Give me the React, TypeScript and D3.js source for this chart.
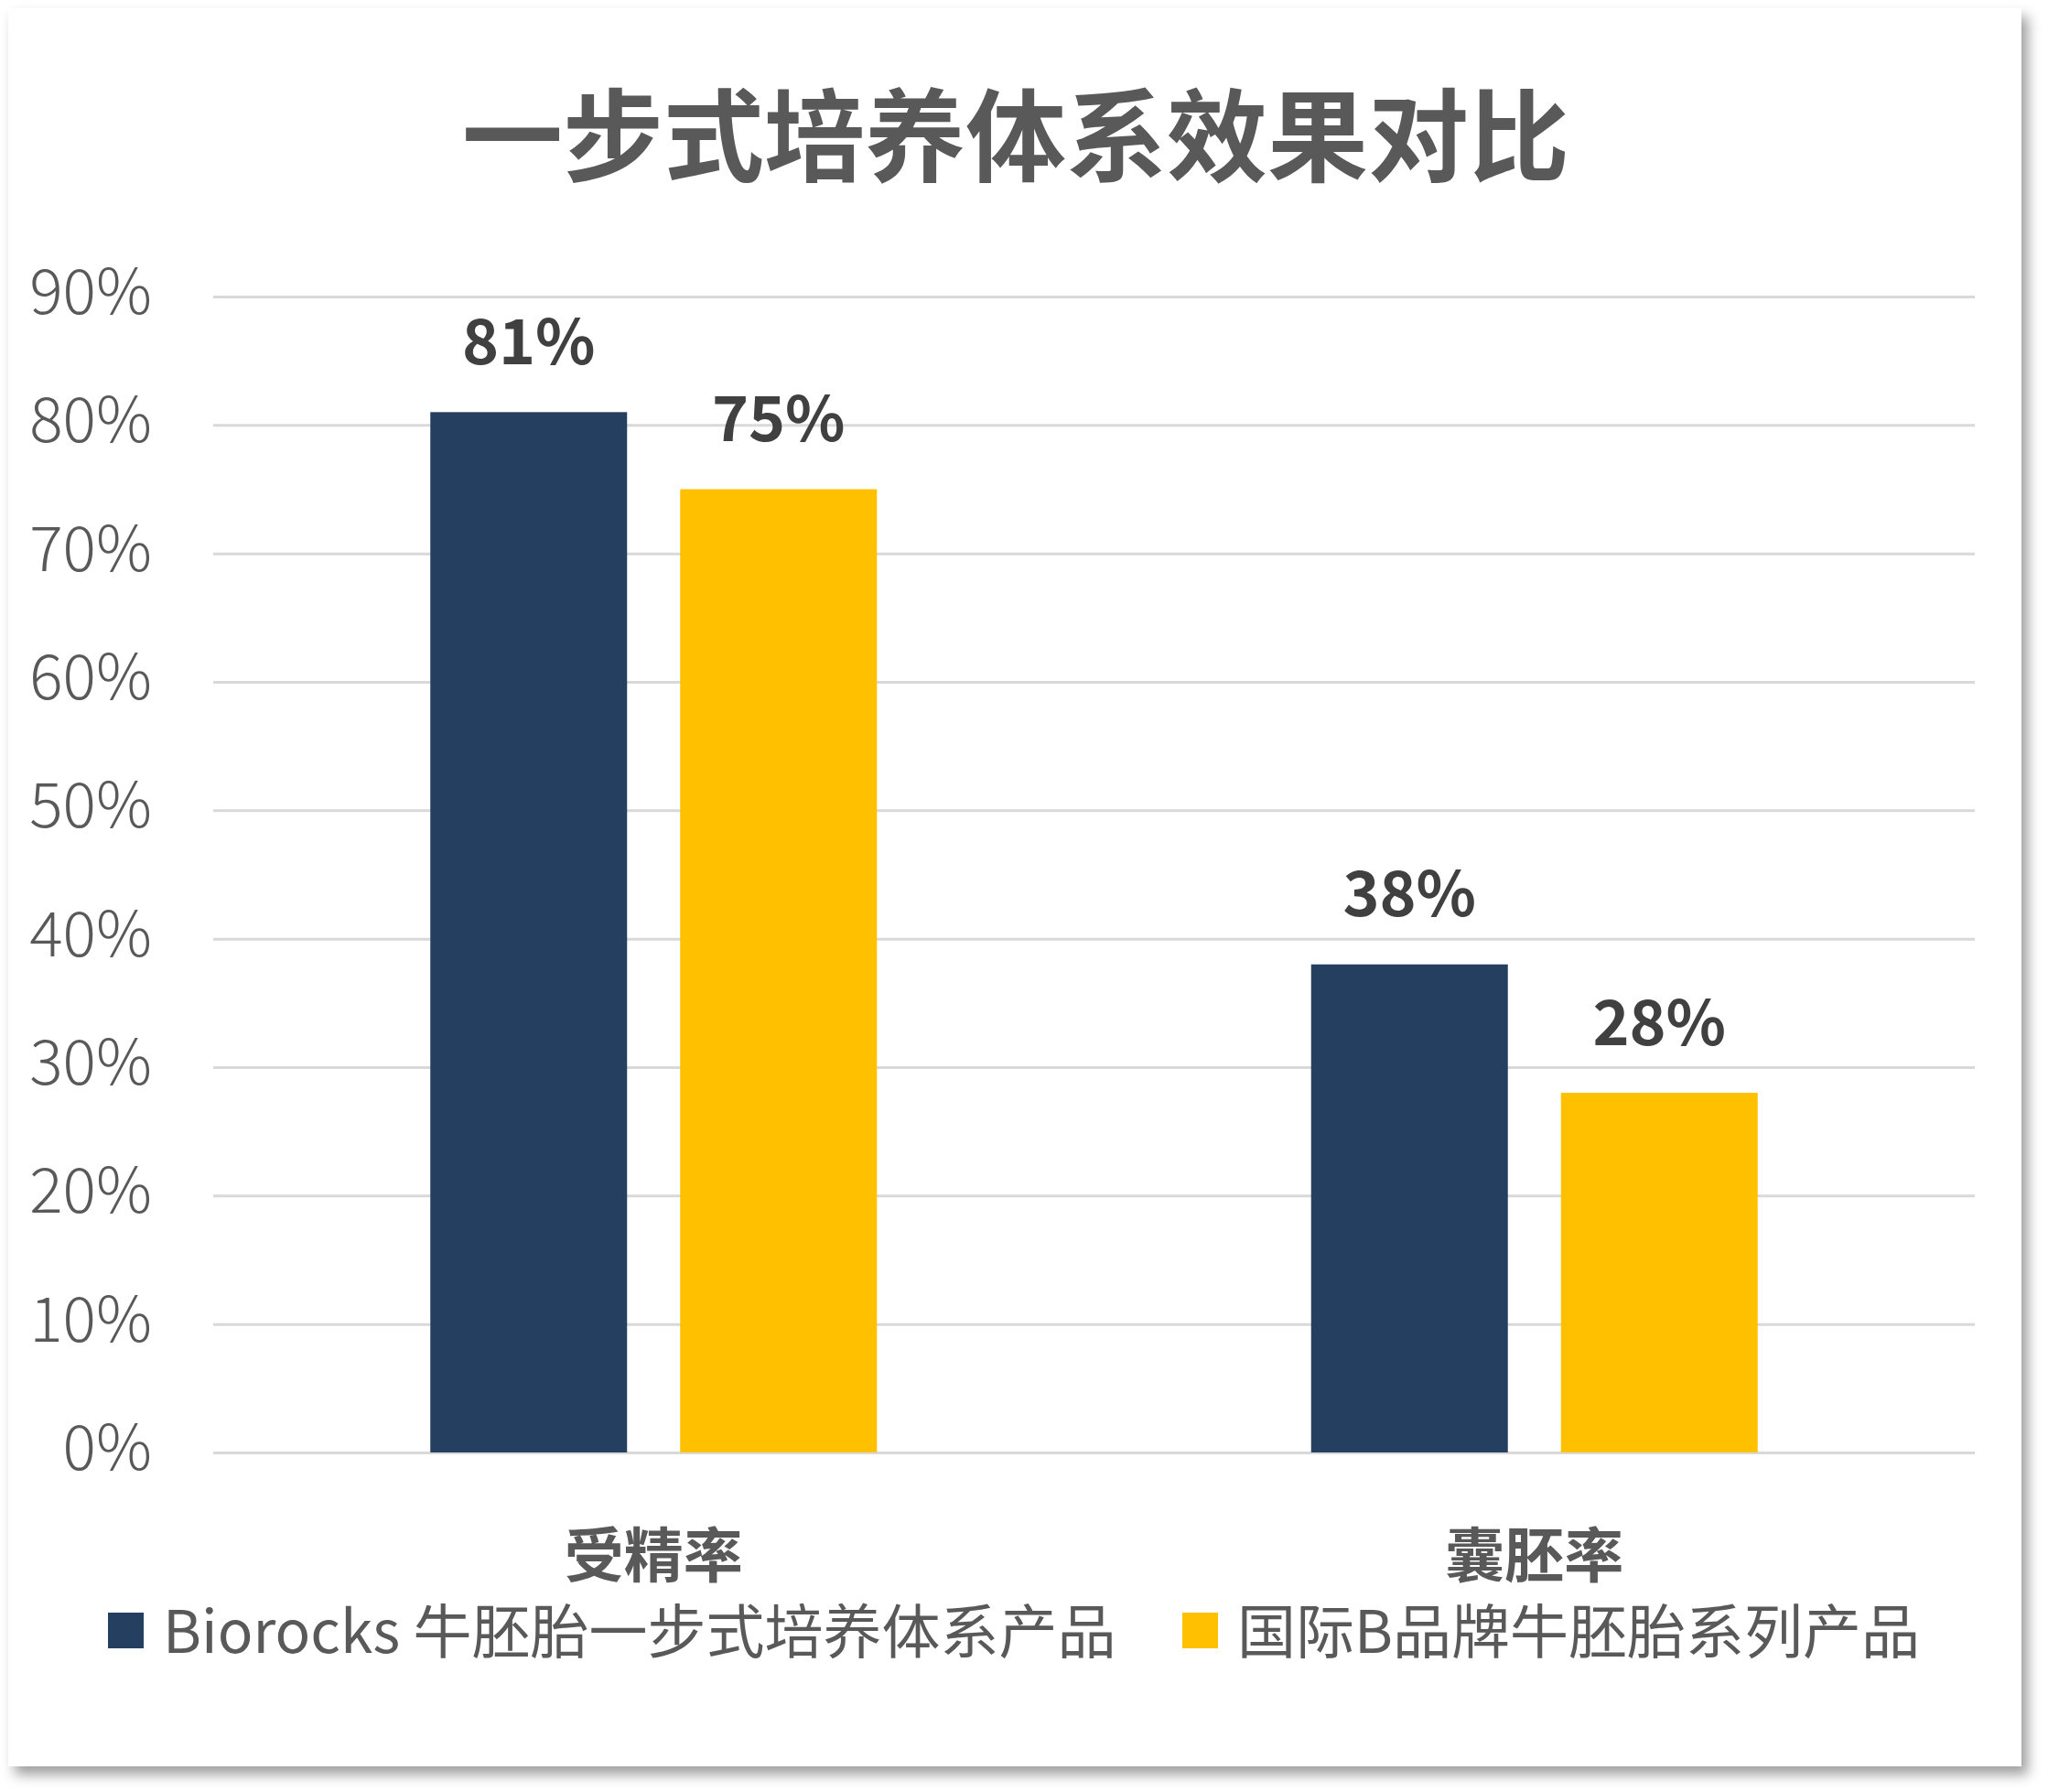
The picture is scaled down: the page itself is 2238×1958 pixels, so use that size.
import React, { useEffect, useRef } from "react";
import * as d3 from "d3";

const title = "一步式培养体系效果对比";
const categories = ["受精率", "囊胚率"];
const seriesNames = ["Biorocks 牛胚胎一步式培养体系产品", "国际B品牌牛胚胎系列产品"];
const biorocksValues = [0.81, 0.38];
const brandBValues = [0.75, 0.28];
const yTicks = [0, 0.1, 0.2, 0.3, 0.4, 0.5, 0.6, 0.7, 0.8, 0.9];
const seriesColors = ["#253F60", "#FFC000"];

const W = 2238;
const H = 1958;
const FONT = "'Noto Sans CJK SC', 'Noto Sans', sans-serif";

export default function App() {
  const ref = useRef<SVGSVGElement | null>(null);

  useEffect(() => {
    const svg = d3.select(ref.current);
    svg.selectAll("*").remove();

    const defs = svg.append("defs");
    const f = defs
      .append("filter")
      .attr("id", "cardShadow")
      .attr("x", "-5%")
      .attr("y", "-5%")
      .attr("width", "110%")
      .attr("height", "110%");
    f.append("feDropShadow")
      .attr("dx", 7)
      .attr("dy", 9)
      .attr("stdDeviation", 7)
      .attr("flood-color", "#000")
      .attr("flood-opacity", 0.38);

    // card
    svg
      .append("rect")
      .attr("x", 9)
      .attr("y", 9)
      .attr("width", 2200)
      .attr("height", 1921)
      .attr("fill", "#fff")
      .attr("filter", "url(#cardShadow)");

    const left = 233;
    const right = 2158;
    const y = d3.scaleLinear().domain([0, 0.9]).range([1587, 324]);
    const x0 = d3.scaleBand<string>().domain(categories).range([left, right]).padding(0);
    const x1 = d3
      .scaleBand<string>()
      .domain(seriesNames)
      .range([0, x0.bandwidth()])
      .paddingInner(0.2125)
      .paddingOuter(0.869);

    // title
    svg
      .append("text")
      .attr("x", 1110)
      .attr("y", 142)
      .attr("text-anchor", "middle")
      .attr("dominant-baseline", "central")
      .attr("font-family", FONT)
      .attr("font-weight", 700)
      .attr("font-size", 110)
      .attr("fill", "#595959")
      .text(title);

    // y axis with gridlines
    const axis = d3
      .axisLeft(y)
      .tickValues(yTicks)
      .tickFormat(d3.format(".0%") as any)
      .tickSizeInner(-(right - left))
      .tickSizeOuter(0)
      .tickPadding(67);
    const g = svg.append("g").attr("transform", `translate(${left},0)`).call(axis);
    g.select(".domain").remove();
    g.selectAll(".tick line").attr("stroke", "#D9D9D9").attr("stroke-width", 3);
    g.selectAll(".tick text")
      .attr("dy", -11)
      .attr("dominant-baseline", "central")
      .attr("font-family", FONT)
      .attr("font-weight", 300)
      .attr("font-size", 68)
      .attr("fill", "#595959");

    const seriesData = [biorocksValues, brandBValues];

    // bars
    seriesNames.forEach((s, si) => {
      const vals = seriesData[si];
      svg
        .append("g")
        .selectAll("rect")
        .data(vals)
        .join("rect")
        .attr("x", (_d, i) => (x0(categories[i]) as number) + (x1(s) as number))
        .attr("y", (d) => y(d))
        .attr("width", x1.bandwidth())
        .attr("height", (d) => y(0) - y(d))
        .attr("fill", seriesColors[si]);

      svg
        .append("g")
        .selectAll("text")
        .data(vals)
        .join("text")
        .attr("x", (_d, i) => (x0(categories[i]) as number) + (x1(s) as number) + x1.bandwidth() / 2)
        .attr("y", (d) => y(d) - 82)
        .attr("text-anchor", "middle")
        .attr("dominant-baseline", "central")
        .attr("font-family", FONT)
        .attr("font-weight", 700)
        .attr("font-size", 68)
        .attr("fill", "#404040")
        .text((d) => d3.format(".0%")(d));
    });

    // category labels
    svg
      .append("g")
      .selectAll("text")
      .data(categories)
      .join("text")
      .attr("x", (d) => (x0(d) as number) + x0.bandwidth() / 2)
      .attr("y", 1695)
      .attr("text-anchor", "middle")
      .attr("dominant-baseline", "central")
      .attr("font-family", FONT)
      .attr("font-weight", 700)
      .attr("font-size", 65)
      .attr("fill", "#595959")
      .text((d) => d);

    // legend
    const legendX = [118, 1292];
    const legend = svg.append("g");
    seriesNames.forEach((s, i) => {
      legend
        .append("rect")
        .attr("x", legendX[i])
        .attr("y", 1762)
        .attr("width", 39)
        .attr("height", 39)
        .attr("fill", seriesColors[i]);
      legend
        .append("text")
        .attr("x", legendX[i] + 60)
        .attr("y", 1778)
        .attr("dominant-baseline", "central")
        .attr("font-family", FONT)
        .attr("font-weight", 400)
        .attr("font-size", 64)
        .attr("fill", "#595959")
        .text(s);
    });
  }, []);

  return (
    <svg
      ref={ref}
      width={W}
      height={H}
      style={{ position: "absolute", left: 0, top: 0, display: "block", background: "#fff" }}
    />
  );
}
